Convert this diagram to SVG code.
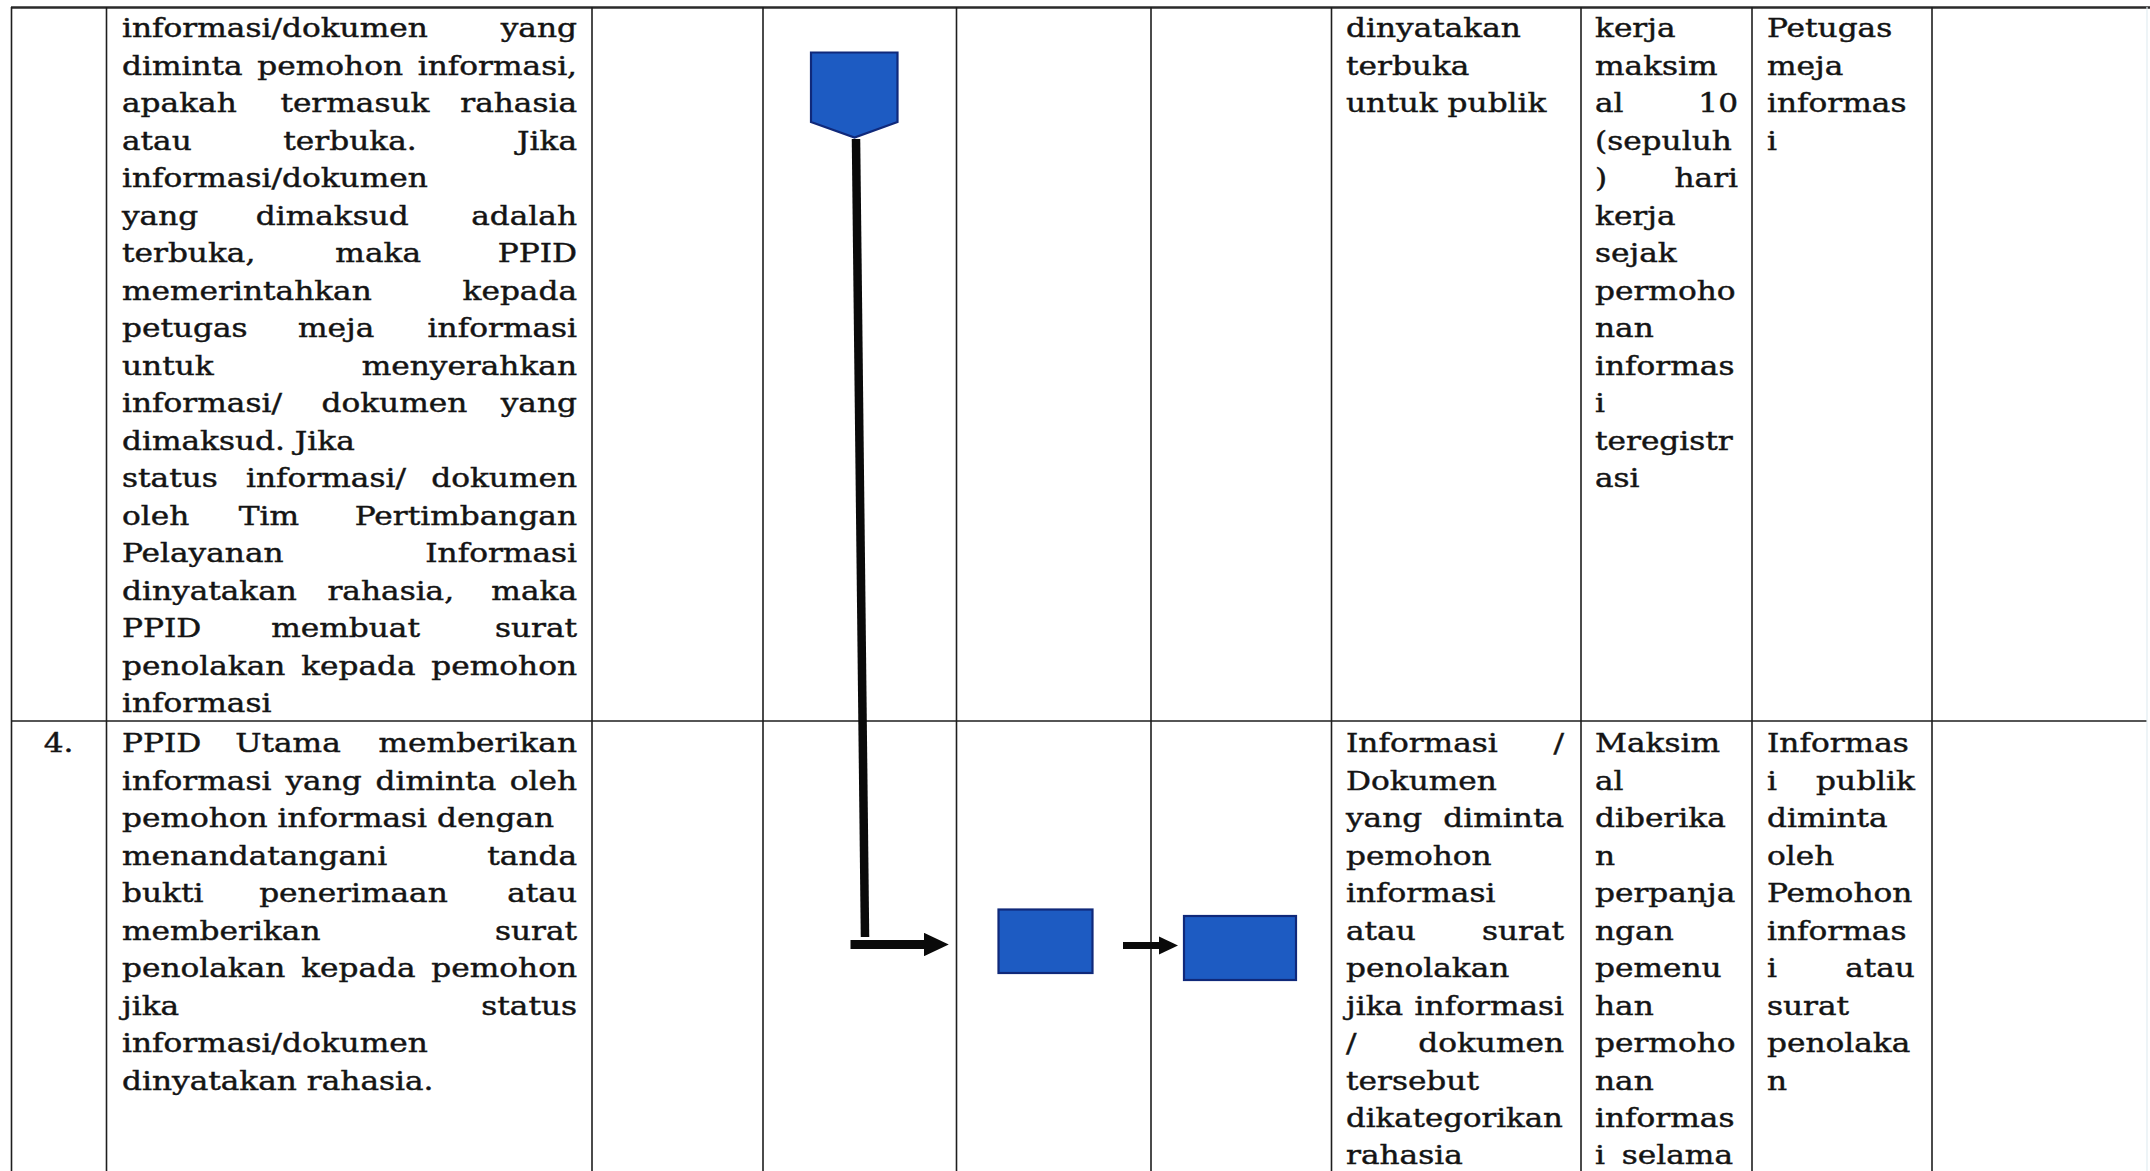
<svg xmlns="http://www.w3.org/2000/svg" width="2150" height="1171" viewBox="0 0 2150 1171">
<style>
.bg{fill:#ffffff}
.grid line{stroke:#1e1e1e;stroke-width:1.6}
.grid line.top{stroke:#2a2a2a;stroke-width:2.4}
.grid line.faint{stroke:#e2edf2;stroke-width:1.2}
.t{font-family:"DejaVu Serif","Liberation Serif",serif;font-size:26px;fill:#141414;stroke:#141414;stroke-width:0.45}
.r{text-anchor:end}
.m{text-anchor:middle}
.shape{fill:#1d5bc2;stroke:#10297a;stroke-width:2.2}
.conn{stroke:#0a0a0a;fill:none;stroke-linecap:butt}
</style>
<defs>
<marker id="ah" viewBox="0 0 10 10" refX="0" refY="5" markerWidth="2.75" markerHeight="2.6" preserveAspectRatio="none" orient="auto" markerUnits="strokeWidth">
<path d="M0,0 L10,5 L0,10 z" fill="#0a0a0a"/>
</marker>
</defs>
<rect class="bg" x="0" y="0" width="2150" height="1171"/>

<g id="grid" class="grid">
<line class="top" x1="11" y1="7.5" x2="2150" y2="7.5"/>
<line x1="11" y1="721" x2="2147" y2="721"/>
<line x1="11.5" y1="7" x2="11.5" y2="1171"/>
<line x1="106.5" y1="7" x2="106.5" y2="1171"/>
<line x1="592" y1="7" x2="592" y2="1171"/>
<line x1="763" y1="7" x2="763" y2="1171"/>
<line x1="956.5" y1="7" x2="956.5" y2="1171"/>
<line x1="1151" y1="7" x2="1151" y2="1171"/>
<line x1="1331.5" y1="7" x2="1331.5" y2="1171"/>
<line x1="1581" y1="7" x2="1581" y2="1171"/>
<line x1="1752" y1="7" x2="1752" y2="1171"/>
<line x1="1932" y1="7" x2="1932" y2="1171"/>
<line class="faint" x1="2147" y1="7" x2="2147" y2="1171"/>
</g>

<g id="connectors">
<path id="e1" class="conn" d="M856,139 L865,937" stroke-width="8.5"/>
<path id="e2" class="conn" d="M850.5,944.5 L924,944.5" stroke-width="9" marker-end="url(#ah)"/>
<path id="e3" class="conn" d="M1123,945.5 L1159,945.5" stroke-width="7" marker-end="url(#ah)"/>
</g>

<g id="n1"><polygon class="shape" points="811,52.5 897.5,52.5 897.5,122 854.5,137.5 811,122"/></g>
<g id="n2"><rect class="shape" x="998.5" y="909.5" width="94" height="63.5"/></g>
<g id="n3"><rect class="shape" x="1184" y="916" width="112" height="64"/></g>

<!-- Row 1, column 2 -->
<g id="r1c2" class="t" transform="translate(122,0) scale(1.2,1)">
<text x="0" y="37.3">informasi/dokumen</text><text class="r" x="379.2" y="37.3">yang</text>
<text x="0" y="74.8">diminta</text><text class="m" x="173.5" y="74.8">pemohon</text><text class="r" x="379.2" y="74.8">informasi,</text>
<text x="0" y="112.3">apakah</text><text class="m" x="194.1" y="112.3">termasuk</text><text class="r" x="379.2" y="112.3">rahasia</text>
<text x="0" y="149.8">atau</text><text class="m" x="190" y="149.8">terbuka.</text><text class="r" x="379.2" y="149.8">Jika</text>
<text x="0" y="187.3">informasi/dokumen</text>
<text x="0" y="224.8">yang</text><text class="m" x="175.2" y="224.8">dimaksud</text><text class="r" x="379.2" y="224.8">adalah</text>
<text x="0" y="262.3">terbuka,</text><text class="m" x="213.5" y="262.3">maka</text><text class="r" x="379.2" y="262.3">PPID</text>
<text x="0" y="299.8">memerintahkan</text><text class="r" x="379.2" y="299.8">kepada</text>
<text x="0" y="337.3">petugas</text><text class="m" x="178.4" y="337.3">meja</text><text class="r" x="379.2" y="337.3">informasi</text>
<text x="0" y="374.8">untuk</text><text class="r" x="379.2" y="374.8">menyerahkan</text>
<text x="0" y="412.3">informasi/</text><text class="m" x="227" y="412.3">dokumen</text><text class="r" x="379.2" y="412.3">yang</text>
<text x="0" y="449.8">dimaksud. Jika</text>
<text x="0" y="487.3">status</text><text class="m" x="170" y="487.3">informasi/</text><text class="r" x="379.2" y="487.3">dokumen</text>
<text x="0" y="524.8">oleh</text><text class="m" x="122.4" y="524.8">Tim</text><text class="r" x="379.2" y="524.8">Pertimbangan</text>
<text x="0" y="562.3">Pelayanan</text><text class="r" x="379.2" y="562.3">Informasi</text>
<text x="0" y="599.8">dinyatakan</text><text class="m" x="224" y="599.8">rahasia,</text><text class="r" x="379.2" y="599.8">maka</text>
<text x="0" y="637.3">PPID</text><text class="m" x="186.3" y="637.3">membuat</text><text class="r" x="379.2" y="637.3">surat</text>
<text x="0" y="674.8">penolakan</text><text class="m" x="197" y="674.8">kepada</text><text class="r" x="379.2" y="674.8">pemohon</text>
<text x="0" y="712.3">informasi</text>
</g>

<!-- Row 2, column 1 -->
<g id="r2c1" class="t" transform="translate(58.5,0) scale(1.2,1)">
<text class="m" x="0" y="752.5">4.</text>
</g>

<!-- Row 2, column 2 -->
<g id="r2c2" class="t" transform="translate(122,0) scale(1.2,1)">
<text x="0" y="752.5">PPID</text><text class="m" x="138.3" y="752.5">Utama</text><text class="r" x="379.2" y="752.5">memberikan</text>
<text x="0" y="790">informasi</text><text class="m" x="168" y="790">yang</text><text class="m" x="261.6" y="790">diminta</text><text class="r" x="379.2" y="790">oleh</text>
<text x="0" y="827.4">pemohon informasi dengan</text>
<text x="0" y="864.9">menandatangani</text><text class="r" x="379.2" y="864.9">tanda</text>
<text x="0" y="902.3">bukti</text><text class="m" x="192.9" y="902.3">penerimaan</text><text class="r" x="379.2" y="902.3">atau</text>
<text x="0" y="939.8">memberikan</text><text class="r" x="379.2" y="939.8">surat</text>
<text x="0" y="977.2">penolakan</text><text class="m" x="197" y="977.2">kepada</text><text class="r" x="379.2" y="977.2">pemohon</text>
<text x="0" y="1014.7">jika</text><text class="r" x="379.2" y="1014.7">status</text>
<text x="0" y="1052.1">informasi/dokumen</text>
<text x="0" y="1089.6">dinyatakan rahasia.</text>
</g>

<!-- Column 6 -->
<g id="r1c6" class="t" transform="translate(1346,0) scale(1.2,1)">
<text x="0" y="37.3">dinyatakan</text>
<text x="0" y="74.8">terbuka</text>
<text x="0" y="112.3">untuk publik</text>
</g>
<g id="r2c6" class="t" transform="translate(1346,0) scale(1.2,1)">
<text x="0" y="752.5">Informasi</text><text class="r" x="181.7" y="752.5">/</text>
<text x="0" y="790">Dokumen</text>
<text x="0" y="827.4">yang</text><text class="r" x="181.7" y="827.4">diminta</text>
<text x="0" y="864.9">pemohon</text>
<text x="0" y="902.3">informasi</text>
<text x="0" y="939.8">atau</text><text class="r" x="181.7" y="939.8">surat</text>
<text x="0" y="977.2">penolakan</text>
<text x="0" y="1014.7">jika</text><text class="r" x="181.7" y="1014.7">informasi</text>
<text x="0" y="1052.1">/</text><text class="r" x="181.7" y="1052.1">dokumen</text>
<text x="0" y="1089.6">tersebut</text>
<text x="0" y="1127" textLength="180.8" lengthAdjust="spacingAndGlyphs">dikategorikan</text>
<text x="0" y="1164.5">rahasia</text>
</g>

<!-- Column 7 -->
<g id="r1c7" class="t" transform="translate(1595,0) scale(1.2,1)">
<text x="0" y="37.3">kerja</text>
<text x="0" y="74.8">maksim</text>
<text x="0" y="112.3">al</text><text class="r" x="119.2" y="112.3">10</text>
<text x="0" y="149.8">(sepuluh</text>
<text x="0" y="187.3">)</text><text class="r" x="119.2" y="187.3">hari</text>
<text x="0" y="224.8">kerja</text>
<text x="0" y="262.3">sejak</text>
<text x="0" y="299.8">permoho</text>
<text x="0" y="337.3">nan</text>
<text x="0" y="374.8">informas</text>
<text x="0" y="412.3">i</text>
<text x="0" y="449.8">teregistr</text>
<text x="0" y="487.3">asi</text>
</g>
<g id="r2c7" class="t" transform="translate(1595,0) scale(1.2,1)">
<text x="0" y="752.5">Maksim</text>
<text x="0" y="790">al</text>
<text x="0" y="827.4">diberika</text>
<text x="0" y="864.9">n</text>
<text x="0" y="902.3">perpanja</text>
<text x="0" y="939.8">ngan</text>
<text x="0" y="977.2">pemenu</text>
<text x="0" y="1014.7">han</text>
<text x="0" y="1052.1">permoho</text>
<text x="0" y="1089.6">nan</text>
<text x="0" y="1127">informas</text>
<text x="0" y="1164.5">i</text><text class="r" x="115" y="1164.5">selama</text>
</g>

<!-- Column 8 -->
<g id="r1c8" class="t" transform="translate(1767,0) scale(1.2,1)">
<text x="0" y="37.3">Petugas</text>
<text x="0" y="74.8">meja</text>
<text x="0" y="112.3">informas</text>
<text x="0" y="149.8">i</text>
</g>
<g id="r2c8" class="t" transform="translate(1767,0) scale(1.2,1)">
<text x="0" y="752.5">Informas</text>
<text x="0" y="790">i</text><text class="r" x="123.3" y="790">publik</text>
<text x="0" y="827.4">diminta</text>
<text x="0" y="864.9">oleh</text>
<text x="0" y="902.3">Pemohon</text>
<text x="0" y="939.8">informas</text>
<text x="0" y="977.2">i</text><text class="r" x="123.3" y="977.2">atau</text>
<text x="0" y="1014.7">surat</text>
<text x="0" y="1052.1">penolaka</text>
<text x="0" y="1089.6">n</text>
</g>
</svg>
